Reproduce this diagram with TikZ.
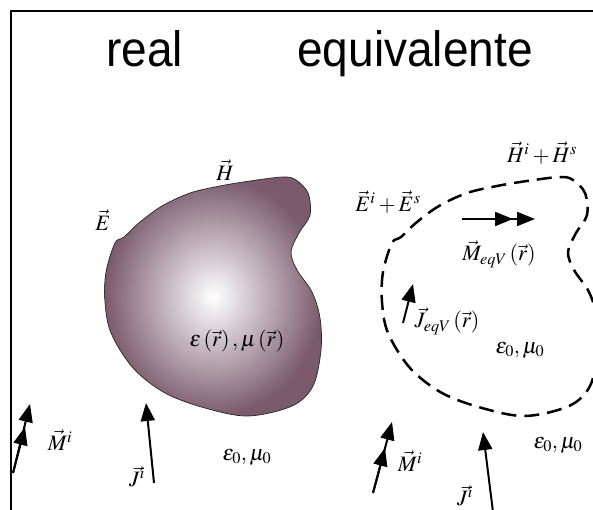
\documentclass[tikz,border=0pt]{standalone}
\usepackage{mathptmx}
\usepackage[no-math]{fontspec}
\usetikzlibrary{arrows.meta}
\newfontfamily\titlefont{Liberation Sans}
\definecolor{fieldink}{HTML}{000000}
\definecolor{blobmauve}{HTML}{7A5A6C}

\begin{document}
\begin{tikzpicture}[
  x=1pt,
  y=-1pt,
  every node/.style={font=\fontsize{22}{26}\selectfont, fieldink},
  titletext/.style={font=\titlefont\fontsize{46}{54}\selectfont,
                    anchor=base, inner sep=0pt},
  frameline/.style={fieldink, line width=2pt},
  blobpath/.style={insert path={plot[smooth cycle, tension=0.55] coordinates {
    (115,243) (106,272) (105,302) (111,333) (133,368) (165,393) (205,408)
    (248,416) (292,406) (313,386) (321,350) (320,318) (312,292) (297,270)
    (291,252) (299,233) (310,215) (308,193) (296,180) (283,177) (250,181)
    (220,186) (190,193) (162,206) (140,222) (124,237)}}},
  realbody/.style={draw=black!85, line width=0.7pt,
                   inner color=white, outer color=blobmauve},
  virtualbody/.style={fieldink, line width=2.5pt,
                      dash pattern=on 15pt off 8pt},
  srcarrow/.style={fieldink, line width=2pt,
                   -{Triangle[length=18pt,width=14pt]}}
]
  \useasboundingbox (0,0) rectangle (593,510);
  \begin{scope}
  \clip (0,0) rectangle (593,510);

  %% ---- 外框 ---------------------------------------------------------------
  \draw[frameline] (11,515) -- (11,11) -- (600,11);

  %% ---- 標題 ---------------------------------------------------------------
  \node (realtitle) [titletext] at (144.5,67) {\scalebox{1}[1.08]{real}};
  \node (equivtitle) [titletext] at (415,67) {\scalebox{1}[1.08]{equivalente}};

  %% ---- 實際物體 (左) 與等效體積 (右, 向右平移 277) ------------------------
  \shade[realbody, blobpath];
  \draw[virtualbody, shift={(277,0)}, blobpath];

  %% ---- 左圖標示 -------------------------------------------------------------
  \node (hreal) at (225,170) {$\vec{H}$};
  \node (ereal) at (103,220) {$\vec{E}$};
  \node (epsmu) at (237,341) {$\varepsilon\left(\vec{r}\right),\mu\left(\vec{r}\right)$};
  \node (freeleft) at (247,457) {$\varepsilon_0,\mu_0$};
  \node (mileft) at (60,440) {$\vec{M}^{i}$};
  \node (jileft) at (137,477) {$\vec{J}^{i}$};

  %% ---- 右圖標示 -------------------------------------------------------------
  \node (hsum) at (542,153) {$\vec{H}^{i}+\vec{H}^{s}$};
  \node (esum) at (388,202) {$\vec{E}^{i}+\vec{E}^{s}$};
  \node (meqv) at (499,254) {$\vec{M}_{eqV}\left(\vec{r}\right)$};
  \node (jeqv) at (447,321) {$\vec{J}_{eqV}\left(\vec{r}\right)$};
  \node (freeinner) at (520,350) {$\varepsilon_0,\mu_0$};
  \node (freeright) at (558,445) {$\varepsilon_0,\mu_0$};
  \node (miright) at (410,461) {$\vec{M}^{i}$};
  \node (jiright) at (465,496) {$\vec{J}^{i}$};

  %% ---- 源的箭頭；雙箭頭以兩段重疊畫出 -------------------------------------
  \coordinate (mlA) at (13,473);
  \coordinate (mlB) at (25,427);
  \coordinate (mlC) at (30,404);
  \draw[srcarrow] (mlA) -- (mlB);
  \draw[srcarrow] (mlA) -- (mlC);

  \coordinate (jlA) at (154,483);
  \coordinate (jlB) at (146,403);
  \draw[srcarrow] (jlA) -- (jlB);

  \coordinate (mrA) at (373,493);
  \coordinate (mrB) at (385,448);
  \coordinate (mrC) at (392,422);
  \draw[srcarrow] (mrA) -- (mrB);
  \draw[srcarrow] (mrA) -- (mrC);

  \coordinate (jrA) at (493,512);
  \coordinate (jrB) at (483,432);
  \draw[srcarrow] (jrA) -- (jrB);

  \coordinate (meA) at (462,219);
  \coordinate (meB) at (513,219);
  \coordinate (meC) at (535,219);
  \draw[srcarrow] (meA) -- (meB);
  \draw[srcarrow] (meA) -- (meC);

  \coordinate (jeA) at (403,323);
  \coordinate (jeB) at (413,284);
  \draw[srcarrow] (jeA) -- (jeB);
  \end{scope}
\end{tikzpicture}
\end{document}
